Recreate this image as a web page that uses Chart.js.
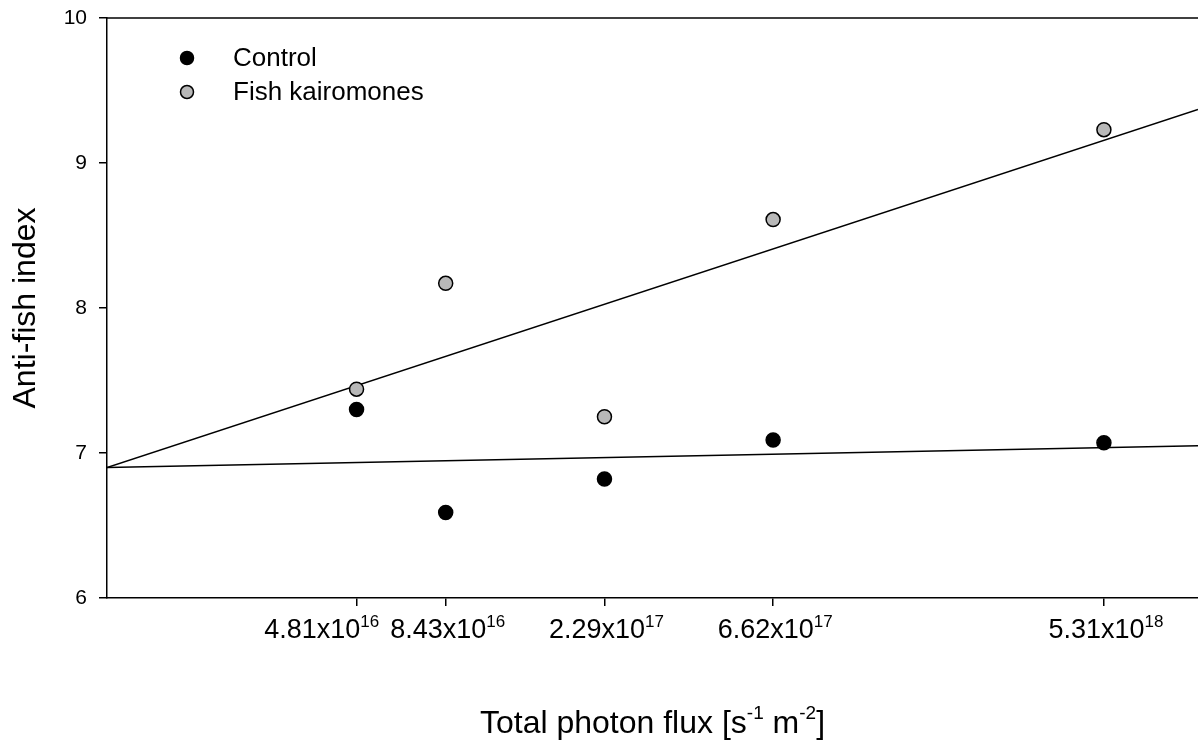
<!DOCTYPE html>
<html>
<head>
<meta charset="utf-8">
<script src="https://cdn.jsdelivr.net/npm/chart.js@4/dist/chart.umd.min.js"></script>
<style>
  html, body { margin: 0; padding: 0; background: #fff; }
  canvas { display: block; }
</style>
</head>
<body>
<canvas id="chart" width="1198" height="742"></canvas>
<script>
// values
const photonFlux = [4.81e16, 8.43e16, 2.29e17, 6.62e17, 5.31e18];
const fluxLabels = ['4.81x10^16', '8.43x10^16', '2.29x10^17', '6.62x10^17', '5.31x10^18'];
const controlIndex = [7.30, 6.59, 6.82, 7.09, 7.07];
const fishIndex = [7.44, 8.17, 7.25, 8.61, 9.23];
// x range visible in the figure (right side is cropped)
const fluxMin = 1e16;
const fluxMax = 9.6e18;
// regression lines, taken at the plot edges
const fitFlux = [fluxMin, fluxMax];
const controlFit = [6.90, 7.05];
const fishFit = [6.90, 9.37];
const seriesNames = ['Control', 'Fish kairomones'];
const seriesColors = ['#000000', '#b8b8b8'];

const FONT = '"Liberation Sans", Arial, sans-serif';

const toXY = (xs, ys) => xs.map((x, i) => ({ x: x, y: ys[i] }));

// draws what Chart.js can't do with superscripts: x tick labels, x title, legend, top frame
const extras = {
    id: 'extras',
    afterDraw(chart) {
        const { ctx, chartArea: ca, scales } = chart;
        const xs = scales.x;
        ctx.save();

        ctx.strokeStyle = '#000';
        ctx.lineWidth = 1.5;
        ctx.beginPath();
        ctx.moveTo(ca.left, ca.top);
        ctx.lineTo(ca.right, ca.top);
        ctx.stroke();

        // tick labels  "m x10^e"
        ctx.fillStyle = '#000';
        ctx.textBaseline = 'alphabetic';
        ctx.textAlign = 'left';
        const items = fluxLabels.map((lab, i) => {
            const [m, e] = lab.split('^');
            ctx.font = '27px ' + FONT;
            const wm = ctx.measureText(m).width;
            ctx.font = '17px ' + FONT;
            const we = ctx.measureText(e).width;
            const px = xs.getPixelForValue(photonFlux[i]);
            return { m, e, wm, we, left: px - (wm + we) / 2 + 2 };
        });
        for (let i = items.length - 2; i >= 0; i--) {
            const lim = items[i + 1].left - 11;
            const it = items[i];
            if (it.left + it.wm + it.we > lim) it.left = lim - it.wm - it.we;
        }
        items.forEach(it => {
            ctx.font = '27px ' + FONT;
            ctx.fillText(it.m, it.left, 638);
            ctx.font = '17px ' + FONT;
            ctx.fillText(it.e, it.left + it.wm, 627);
        });

        // x axis title
        const parts = [['Total photon flux [s', 0], ['-1', 1], [' m', 0], ['-2', 1], [']', 0]];
        const w = parts.map(p => {
            ctx.font = (p[1] ? '19px ' : '32px ') + FONT;
            return ctx.measureText(p[0]).width;
        });
        let x = (ca.left + ca.right) / 2 - w.reduce((a, b) => a + b, 0) / 2;
        parts.forEach((p, i) => {
            ctx.font = (p[1] ? '19px ' : '32px ') + FONT;
            ctx.fillText(p[0], x, p[1] ? 719 : 733);
            x += w[i];
        });

        // legend
        const legY = [58, 92];
        seriesNames.forEach((name, i) => {
            ctx.beginPath();
            ctx.arc(187, legY[i], 6.5, 0, Math.PI * 2);
            ctx.fillStyle = seriesColors[i];
            ctx.fill();
            ctx.lineWidth = 1.5;
            ctx.strokeStyle = '#000';
            ctx.stroke();
            ctx.fillStyle = '#000';
            ctx.font = '26px ' + FONT;
            ctx.textBaseline = 'middle';
            ctx.fillText(name, 233, legY[i] + 1);
        });
        ctx.restore();
    }
};

new Chart(document.getElementById('chart').getContext('2d'), {
    type: 'scatter',
    data: {
        datasets: [
            {
                type: 'line',
                label: 'Control fit',
                data: toXY(fitFlux, controlFit),
                borderColor: '#000',
                borderWidth: 1.5,
                pointRadius: 0,
                showLine: true,
                fill: false,
                order: 2
            },
            {
                type: 'line',
                label: 'Fish kairomones fit',
                data: toXY(fitFlux, fishFit),
                borderColor: '#000',
                borderWidth: 1.5,
                pointRadius: 0,
                showLine: true,
                fill: false,
                order: 2
            },
            {
                label: seriesNames[0],
                data: toXY(photonFlux, controlIndex),
                backgroundColor: seriesColors[0],
                borderColor: '#000',
                borderWidth: 1.5,
                pointRadius: 7,
                order: 1
            },
            {
                label: seriesNames[1],
                data: toXY(photonFlux, fishIndex),
                backgroundColor: seriesColors[1],
                borderColor: '#000',
                borderWidth: 1.5,
                pointRadius: 7,
                order: 1
            }
        ]
    },
    options: {
        responsive: false,
        animation: false,
        layout: { autoPadding: false, padding: { top: 18, left: 0, right: 0, bottom: 0 } },
        plugins: {
            legend: { display: false },
            tooltip: { enabled: false }
        },
        scales: {
            x: {
                type: 'logarithmic',
                position: 'bottom',
                min: fluxMin,
                max: fluxMax,
                afterBuildTicks: (s) => { s.ticks = photonFlux.map(v => ({ value: v })); },
                afterFit: (s) => { s.height = 144; s.paddingLeft = 0; s.paddingRight = 0; },
                ticks: { display: false },
                grid: { drawOnChartArea: false, drawTicks: true, tickLength: 8, color: '#000', lineWidth: 1.5 },
                border: { display: true, color: '#000', width: 1.5 }
            },
            y: {
                min: 6,
                max: 10,
                afterFit: (s) => { s.width = 107; s.paddingTop = 0; s.paddingBottom = 0; },
                ticks: { stepSize: 1, color: '#000', padding: 12, font: { family: FONT, size: 21 } },
                grid: { drawOnChartArea: false, drawTicks: true, tickLength: 8, color: '#000', lineWidth: 1.5 },
                border: { display: true, color: '#000', width: 1.5 },
                title: {
                    display: true,
                    text: 'Anti-fish index',
                    color: '#000',
                    font: { family: FONT, size: 32 },
                    padding: { top: 7, bottom: 0 }
                }
            }
        }
    },
    plugins: [extras]
});
</script>
</body>
</html>
